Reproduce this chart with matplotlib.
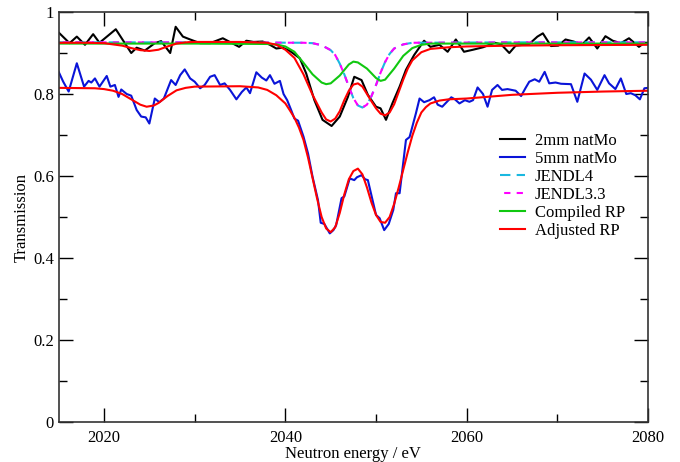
import matplotlib
matplotlib.use("Agg")
import matplotlib.pyplot as plt
from matplotlib.ticker import MultipleLocator

plt.rcParams['font.family'] = ['Liberation Serif', 'DejaVu Serif']

# ---- measured data: 2 mm natMo ----
e_2mm = [2015.0, 2016.2, 2017.0, 2017.9, 2018.8, 2019.5, 2021.3, 2023.0, 2023.6, 2024.5,
         2025.6, 2026.3, 2027.3, 2027.9, 2028.7, 2029.5, 2030.6, 2031.7, 2033.1, 2034.9,
         2035.7, 2036.5, 2037.5, 2038.3, 2039.0, 2039.7, 2040.5, 2041.6, 2042.3, 2043.2,
         2044.1, 2045.1, 2046.0, 2046.9, 2047.6, 2048.4, 2049.1, 2050.0, 2050.5, 2051.1,
         2051.8, 2052.6, 2053.3, 2054.2, 2055.3, 2056.0, 2057.0, 2057.9, 2058.8, 2059.7,
         2060.7, 2061.8, 2063.1, 2063.8, 2064.7, 2065.4, 2066.2, 2066.9, 2067.8, 2068.4,
         2069.3, 2070.1, 2070.9, 2071.8, 2072.7, 2073.5, 2074.4, 2075.3, 2076.1, 2077.0,
         2077.9, 2079.0, 2079.6, 2080.0]
t_2mm = [0.950, 0.924, 0.940, 0.920, 0.946, 0.925, 0.958, 0.900, 0.913, 0.906,
         0.924, 0.929, 0.900, 0.964, 0.940, 0.933, 0.924, 0.924, 0.936, 0.915,
         0.930, 0.927, 0.928, 0.920, 0.911, 0.913, 0.905, 0.887, 0.850, 0.785,
         0.737, 0.722, 0.745, 0.793, 0.842, 0.834, 0.798, 0.769, 0.765, 0.737,
         0.777, 0.818, 0.859, 0.895, 0.930, 0.915, 0.920, 0.903, 0.933, 0.903,
         0.908, 0.914, 0.925, 0.921, 0.900, 0.918, 0.920, 0.922, 0.940, 0.948,
         0.917, 0.918, 0.933, 0.928, 0.920, 0.938, 0.911, 0.941, 0.930, 0.924,
         0.936, 0.915, 0.925, 0.925]

# ---- measured data: 5 mm natMo ----
e_5mm = [2015.0, 2015.5, 2016.1, 2017.0, 2017.8, 2018.3, 2018.6, 2019.0, 2019.5, 2020.3,
         2020.7, 2021.2, 2021.6, 2021.9, 2022.5, 2023.0, 2023.6, 2024.1, 2024.6, 2025.0,
         2025.6, 2026.1, 2026.6, 2027.4, 2027.9, 2028.4, 2028.9, 2029.5, 2030.0, 2030.6,
         2031.1, 2031.7, 2032.2, 2032.8, 2033.3, 2033.9, 2034.6, 2035.2, 2035.7, 2036.1,
         2036.8, 2037.4, 2037.9, 2038.3, 2038.8, 2039.4, 2039.8, 2040.2, 2040.6, 2041.0,
         2041.4, 2042.0, 2042.5, 2043.0, 2043.6, 2043.9, 2044.3, 2044.9, 2045.3, 2045.6,
         2046.2, 2046.5, 2047.1, 2047.6, 2047.9, 2048.4, 2048.8, 2049.1, 2050.0, 2050.4,
         2050.9, 2051.4, 2051.9, 2052.2, 2052.6, 2053.3, 2053.7, 2054.4, 2054.8, 2055.3,
         2055.9, 2056.4, 2056.8, 2057.3, 2058.3, 2058.7, 2059.2, 2059.8, 2060.3, 2060.7,
         2061.2, 2061.8, 2062.3, 2062.8, 2063.4, 2063.9, 2064.5, 2065.4, 2066.0, 2066.5,
         2066.9, 2067.5, 2068.0, 2068.6, 2069.1, 2069.8, 2070.4, 2071.5, 2072.2, 2073.0,
         2073.7, 2074.4, 2075.2, 2075.7, 2076.4, 2077.0, 2077.6, 2078.1, 2078.6, 2079.1,
         2079.6, 2080.0]
t_5mm = [0.854, 0.830, 0.806, 0.875, 0.818, 0.832, 0.828, 0.838, 0.818, 0.844,
         0.818, 0.822, 0.793, 0.811, 0.800, 0.796, 0.761, 0.745, 0.743, 0.728,
         0.789, 0.780, 0.789, 0.834, 0.822, 0.846, 0.860, 0.838, 0.830, 0.814,
         0.822, 0.842, 0.846, 0.822, 0.826, 0.810, 0.787, 0.805, 0.816, 0.802,
         0.853, 0.840, 0.833, 0.846, 0.825, 0.832, 0.800, 0.785, 0.763, 0.740,
         0.735, 0.696, 0.655, 0.598, 0.541, 0.486, 0.483, 0.460, 0.468, 0.480,
         0.546, 0.550, 0.594, 0.590, 0.597, 0.602, 0.592, 0.590, 0.505, 0.497,
         0.468, 0.483, 0.517, 0.558, 0.558, 0.688, 0.695, 0.753, 0.789, 0.780,
         0.785, 0.792, 0.774, 0.769, 0.792, 0.787, 0.777, 0.785, 0.781, 0.785,
         0.816, 0.800, 0.769, 0.810, 0.822, 0.810, 0.812, 0.808, 0.795, 0.815,
         0.830, 0.836, 0.830, 0.854, 0.826, 0.828, 0.825, 0.824, 0.781, 0.850,
         0.835, 0.810, 0.846, 0.826, 0.812, 0.838, 0.800, 0.802, 0.797, 0.787,
         0.814, 0.815]

# ---- JENDL evaluations (2 mm) ----
e_jendl = [2015, 2030, 2042, 2043, 2044, 2045, 2045.5, 2046, 2046.5, 2047, 2047.5, 2048,
           2048.5, 2049, 2049.5, 2050, 2050.5, 2051, 2051.5, 2052, 2053, 2054, 2065, 2080]
t_jendl4 = [0.926, 0.926, 0.925, 0.924, 0.919, 0.907, 0.895, 0.874, 0.848, 0.818, 0.790, 0.772,
            0.767, 0.774, 0.795, 0.822, 0.852, 0.878, 0.898, 0.911, 0.921, 0.925, 0.926, 0.926]
t_jendl33 = [0.926, 0.926, 0.925, 0.924, 0.919, 0.907, 0.895, 0.874, 0.848, 0.818, 0.790, 0.772,
             0.767, 0.774, 0.795, 0.822, 0.852, 0.878, 0.898, 0.911, 0.921, 0.925, 0.926, 0.926]

# ---- Compiled resonance parameters (2 mm) ----
e_comp = [2015, 2030, 2038, 2039, 2040, 2041, 2042, 2043, 2044, 2044.5, 2045, 2046, 2047,
          2047.5, 2048, 2049, 2050, 2050.5, 2051, 2052, 2053, 2054, 2055, 2056, 2058, 2080]
t_comp = [0.923, 0.923, 0.922, 0.921, 0.916, 0.903, 0.876, 0.848, 0.828, 0.824, 0.826, 0.845,
          0.872, 0.879, 0.877, 0.862, 0.839, 0.832, 0.835, 0.862, 0.893, 0.912, 0.920, 0.923,
          0.923, 0.923]

# ---- Adjusted resonance parameters, 2 mm ----
e_adj = [2015, 2018, 2020, 2022, 2023, 2024, 2025, 2026, 2027, 2028, 2029, 2030, 2035, 2038,
         2039, 2040, 2041, 2042, 2043, 2044, 2044.5, 2045, 2045.5, 2046, 2046.5, 2047, 2047.5,
         2048, 2048.5, 2049, 2049.5, 2050, 2050.5, 2051, 2051.5, 2052, 2052.5, 2053, 2053.5,
         2054, 2055, 2056, 2058, 2060, 2065, 2070, 2080]
t_adj_2mm = [0.925, 0.925, 0.924, 0.918, 0.912, 0.907, 0.905, 0.908, 0.916, 0.923, 0.926,
             0.927, 0.927, 0.925, 0.920, 0.908, 0.888, 0.848, 0.798, 0.755, 0.738, 0.733,
             0.740, 0.758, 0.785, 0.808, 0.823, 0.826, 0.818, 0.800, 0.782, 0.765, 0.752,
             0.748, 0.755, 0.775, 0.805, 0.835, 0.862, 0.882, 0.902, 0.910, 0.914, 0.916,
             0.918, 0.919, 0.920]

# ---- Adjusted resonance parameters, 5 mm ----
e_adj5 = [2015, 2019, 2020, 2021, 2022, 2023, 2024, 2024.7, 2025.5, 2026, 2027, 2028, 2029,
          2030, 2035, 2037, 2038, 2039, 2040, 2040.5, 2041, 2041.5, 2042, 2042.5, 2043,
          2043.5, 2044, 2044.5, 2045, 2045.5, 2046, 2046.5, 2047, 2047.5, 2048, 2048.5,
          2049, 2049.5, 2050, 2050.5, 2051, 2051.5, 2052, 2052.5, 2053, 2053.5, 2054,
          2054.5, 2055, 2055.5, 2056, 2057, 2058, 2060, 2065, 2070, 2075, 2080]
t_adj_5mm = [0.815, 0.814, 0.812, 0.808, 0.800, 0.787, 0.774, 0.769, 0.772, 0.778, 0.795,
             0.809, 0.815, 0.818, 0.819, 0.816, 0.810, 0.797, 0.777, 0.760, 0.742, 0.718,
             0.688, 0.645, 0.595, 0.545, 0.500, 0.472, 0.463, 0.475, 0.510, 0.555, 0.592,
             0.612, 0.618, 0.604, 0.572, 0.535, 0.505, 0.488, 0.486, 0.500, 0.532, 0.572,
             0.615, 0.658, 0.698, 0.730, 0.755, 0.768, 0.777, 0.784, 0.787, 0.789, 0.798,
             0.803, 0.806, 0.808]

fig = plt.figure(figsize=(6.8, 4.62), dpi=100)
ax = fig.add_axes([0.0863, 0.0866, 0.8667, 0.8874])

lw = 1.5
ax.plot(e_2mm, t_2mm, color='black', lw=lw, label='2mm natMo')
ax.plot(e_5mm, t_5mm, color='#0a14d8', lw=lw, label='5mm natMo')
ax.plot(e_jendl, t_jendl4, color='#1ab8e0', lw=lw, ls=(0, (5, 3)), label='JENDL4')
ax.plot(e_jendl, t_jendl33, color='#ff00ff', lw=lw, ls=(4, (3, 3)), label='JENDL3.3')
ax.plot(e_comp, t_comp, color='#10c810', lw=lw, label='Compiled RP')
ax.plot(e_adj, t_adj_2mm, color='#ff0000', lw=lw, label='Adjusted RP')
ax.plot(e_adj5, t_adj_5mm, color='#ff0000', lw=lw)

fs = 12
ax.set_xlim(2015, 2080)
ax.set_ylim(0, 1)
ax.xaxis.set_major_locator(MultipleLocator(20))
ax.xaxis.set_minor_locator(MultipleLocator(10))
ax.yaxis.set_major_locator(MultipleLocator(0.2))
ax.yaxis.set_minor_locator(MultipleLocator(0.1))
ax.set_yticks([0, 0.2, 0.4, 0.6, 0.8, 1.0])
ax.set_yticklabels(['0', '0.2', '0.4', '0.6', '0.8', '1'])
ax.tick_params(which='both', direction='in', top=True, right=True, labelsize=fs)
ax.tick_params(which='major', length=10, width=1)
ax.tick_params(which='minor', length=6, width=1)
ax.tick_params(axis='x', which='both', pad=6)
for s in ax.spines.values():
    s.set_linewidth(1.2)
    s.set_color('#333333')

ax.set_xlabel('Neutron energy / eV', fontsize=fs, labelpad=0)
ax.set_ylabel('Transmission', fontsize=fs, labelpad=2)

ax.legend(loc='upper left', bbox_to_anchor=(0.748, 0.706), frameon=False, fontsize=fs,
          borderpad=0, borderaxespad=0, handlelength=1.5, handletextpad=0.6,
          labelspacing=0.12)

fig.savefig('out.png', dpi=100)
